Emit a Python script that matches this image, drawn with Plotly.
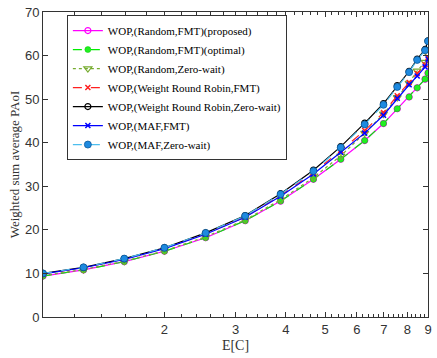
import plotly.graph_objects as go

ec = [1.0, 1.26, 1.59, 2.0, 2.53, 3.17, 3.88, 4.68, 5.47, 6.27, 6.98, 7.55, 8.08, 8.46, 8.85, 9.0]

rand_fmt_prop = [9.4, 10.8, 12.7, 15.1, 18.2, 22.1, 26.6, 31.6, 36.2, 40.5, 44.4, 47.8, 50.5, 52.6, 54.6, 56.0]
rand_fmt_opt  = [9.4, 10.8, 12.7, 15.1, 18.2, 22.1, 26.6, 31.6, 36.2, 40.5, 44.4, 47.8, 50.5, 52.6, 54.6, 56.0]
rand_zw       = [9.5, 10.9, 12.8, 15.2, 18.4, 22.3, 26.9, 32.0, 37.0, 42.2, 46.6, 50.4, 53.7, 56.5, 58.5, 60.3]
wrr_fmt       = [9.9, 11.3, 13.3, 15.8, 19.1, 23.0, 27.9, 33.1, 38.2, 42.8, 46.9, 50.8, 53.8, 55.9, 57.9, 59.6]
wrr_zw        = [10.0, 11.4, 13.4, 15.9, 19.3, 23.3, 28.3, 33.7, 39.1, 44.5, 49.0, 53.1, 56.4, 59.2, 61.4, 63.4]
maf_fmt       = [9.9, 11.3, 13.2, 15.7, 19.0, 22.9, 27.7, 32.8, 37.8, 42.2, 46.3, 50.2, 53.3, 55.3, 57.4, 59.2]
maf_zw        = [10.0, 11.4, 13.4, 15.9, 19.3, 23.2, 28.2, 33.5, 38.9, 44.2, 48.7, 52.8, 56.2, 59.0, 61.2, 63.3]

names = [
    "WOP,(Random,FMT)(proposed)",
    "WOP,(Random,FMT)(optimal)",
    "WOP,(Random,Zero-wait)",
    "WOP,(Weight Round Robin,FMT)",
    "WOP,(Weight Round Robin,Zero-wait)",
    "WOP,(MAF,FMT)",
    "WOP,(MAF,Zero-wait)",
]
y_ticks = [0, 10, 20, 30, 40, 50, 60, 70]
x_ticks = [2, 3, 4, 5, 6, 7, 8, 9]

fig = go.Figure()
styles = [
    (rand_fmt_prop, dict(color="#ff00ff", width=1.2, dash="solid"), dict(symbol="circle-open", size=6, color="#ff00ff", line=dict(width=1.2, color="#ff00ff"))),
    (rand_fmt_opt, dict(color="#00ee00", width=1.2, dash="dash"), dict(symbol="circle", size=6, color="#22ee22", line=dict(width=0.5, color="#00cc00"))),
    (rand_zw, dict(color="#77AC30", width=1.2, dash="dot"), dict(symbol="triangle-down-open", size=7, color="#77AC30", line=dict(width=1.2, color="#77AC30"))),
    (wrr_fmt, dict(color="#ff2020", width=1.2, dash="dash"), dict(symbol="x-thin", size=5, color="#ff2020", line=dict(width=1.5, color="#ff2020"))),
    (wrr_zw, dict(color="#000000", width=1.2, dash="solid"), dict(symbol="circle-open", size=6, color="#000000", line=dict(width=1.2, color="#000000"))),
    (maf_fmt, dict(color="#0000ff", width=1.2, dash="solid"), dict(symbol="x-thin", size=5, color="#0000ff", line=dict(width=1.5, color="#0000ff"))),
    (maf_zw, dict(color="#4DBEEE", width=1.2, dash="dash"), dict(symbol="circle", size=7, color="#1e8ae0", line=dict(width=0.8, color="#0b5a9a"))),
]
for name, (ys, ln, mk) in zip(names, styles):
    fig.add_trace(go.Scatter(x=ec, y=ys, name=name, mode="lines+markers", line=ln, marker=mk))

minor_vals = [round(1 + 0.2 * k, 1) for k in range(1, 41) if abs((1 + 0.2 * k) - round(1 + 0.2 * k)) > 1e-6]

fig.update_layout(
    width=437, height=358,
    margin=dict(l=43, r=5, t=10, b=41),
    paper_bgcolor="white", plot_bgcolor="white",
    showlegend=True,
    legend=dict(
        x=0.062, y=0.99, xanchor="left", yanchor="top",
        bgcolor="white", bordercolor="#333333", borderwidth=1,
        font=dict(family="Liberation Serif", size=11, color="black"),
        tracegroupgap=0, itemwidth=30,
    ),
    xaxis=dict(
        type="log", range=[0, 0.9542],
        tickmode="array", tickvals=x_ticks, ticktext=[str(v) for v in x_ticks],
        ticks="inside", ticklen=5, tickcolor="#333333",
        showline=True, linecolor="#333333", linewidth=1, mirror="ticks",
        showgrid=False, zeroline=False,
        tickfont=dict(family="Liberation Sans", size=13, color="#333333"),
        title=dict(text="E[C]", font=dict(family="Liberation Serif", size=14, color="#333333"), standoff=4),
        minor=dict(tickmode="array", tickvals=minor_vals, ticks="inside", ticklen=3, tickcolor="#333333", showgrid=False),
    ),
    yaxis=dict(
        range=[0, 70], tickmode="array", tickvals=y_ticks,
        ticks="inside", ticklen=5, tickcolor="#333333",
        showline=True, linecolor="#333333", linewidth=1, mirror="ticks",
        showgrid=False, zeroline=False,
        tickfont=dict(family="Liberation Sans", size=13, color="#333333"),
        title=dict(text="Weighted sum average PAoI", font=dict(family="Liberation Serif", size=13, color="#333333"), standoff=2),
    ),
)

fig.write_html(
    "out.html",
    config={"displayModeBar": False},
    post_script="document.body.style.margin='0';document.body.style.overflow='hidden';",
)
